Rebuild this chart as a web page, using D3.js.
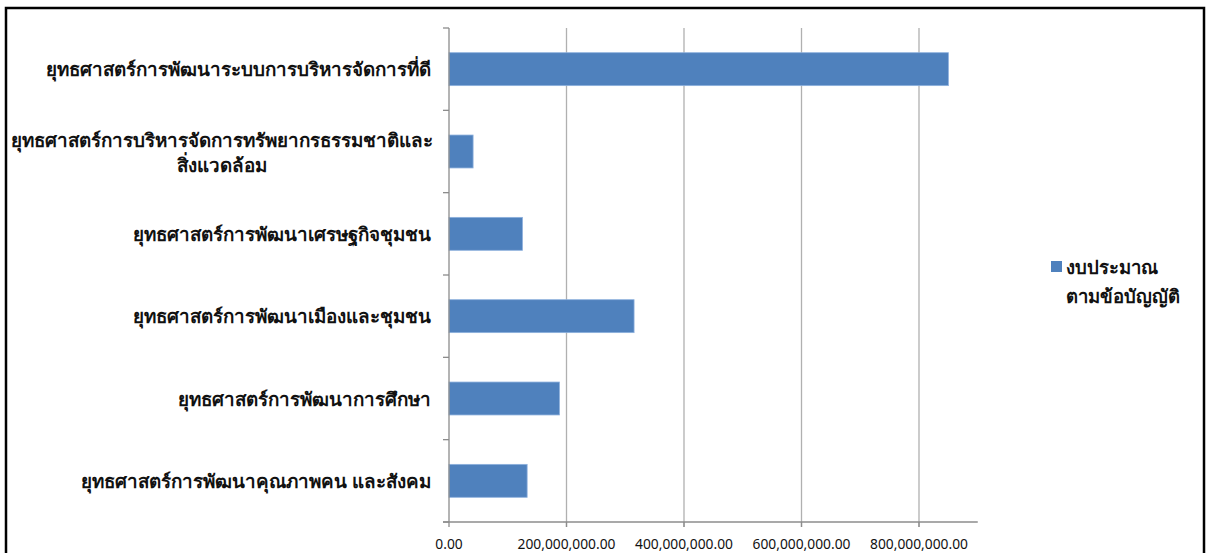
<!DOCTYPE html>
<html>
<head>
<meta charset="utf-8">
<script src="https://cdn.jsdelivr.net/npm/d3@7"></script>
<style>
  body { margin: 0; background: #fff; }
  svg { display: block; font-family: Tahoma, "Noto Sans", "DejaVu Sans", sans-serif; }
</style>
</head>
<body>
<svg id="chart" width="1208" height="553"></svg>
<script>
// categories, top to bottom (label lines)
const categories = [
  ["ยุทธศาสตร์การพัฒนาระบบการบริหารจัดการที่ดี"],
  ["ยุทธศาสตร์การบริหารจัดการทรัพยากรธรรมชาติและ", "สิ่งแวดล้อม"],
  ["ยุทธศาสตร์การพัฒนาเศรษฐกิจชุมชน"],
  ["ยุทธศาสตร์การพัฒนาเมืองและชุมชน"],
  ["ยุทธศาสตร์การพัฒนาการศึกษา"],
  ["ยุทธศาสตร์การพัฒนาคุณภาพคน และสังคม"]
];
const budget = [850000000, 41000000, 125000000, 315000000, 188000000, 133000000];
const seriesName = ["งบประมาณ", "ตามข้อบัญญัติ"];
const xTicks = [0, 200000000, 400000000, 600000000, 800000000];

const svg = d3.select("#chart");

// outer frame
svg.append("rect")
  .attr("x", 6).attr("y", 8)
  .attr("width", 1198).attr("height", 560)
  .attr("fill", "none").attr("stroke", "#000").attr("stroke-width", 2.5);

const plotL = 449, plotT = 28, plotB = 522;

const x = d3.scaleLinear().domain([0, 900000000]).range([plotL, plotL + (919 - plotL) * 900 / 800]);
const y = d3.scaleBand().domain(d3.range(categories.length)).range([plotT, plotB]).paddingInner(0.6).paddingOuter(0.3);
const yb = d3.scaleBand().domain(d3.range(categories.length)).range([plotT, plotB]);

// gridlines
svg.append("g")
  .selectAll("line")
  .data(xTicks.slice(1))
  .join("line")
  .attr("x1", d => x(d)).attr("x2", d => x(d))
  .attr("y1", plotT).attr("y2", plotB + 5)
  .attr("stroke", "#b0b0b0").attr("stroke-width", 1.3);

// bars
svg.append("g")
  .selectAll("rect")
  .data(budget)
  .join("rect")
  .attr("x", x(0))
  .attr("y", (d, i) => y(i))
  .attr("width", d => x(d) - x(0))
  .attr("height", y.bandwidth())
  .attr("fill", "#4f81bd")
  .attr("stroke", "#8db0dd").attr("stroke-width", 0.8);

// y axis
const yAxis = svg.append("g").attr("stroke", "#8c8c8c").attr("stroke-width", 1.3);
yAxis.append("line").attr("x1", plotL).attr("x2", plotL).attr("y1", plotT).attr("y2", plotB);
yAxis.selectAll(".tk")
  .data(d3.range(categories.length + 1))
  .join("line")
  .attr("x1", plotL - 6).attr("x2", plotL)
  .attr("y1", i => i < categories.length ? yb(i) : plotB)
  .attr("y2", i => i < categories.length ? yb(i) : plotB);

// x axis
const xAxis = svg.append("g").attr("stroke", "#8c8c8c").attr("stroke-width", 1.3);
xAxis.append("line").attr("x1", plotL - 6).attr("x2", x(900000000)).attr("y1", plotB).attr("y2", plotB);
xAxis.selectAll(".tk")
  .data(xTicks)
  .join("line")
  .attr("x1", d => x(d)).attr("x2", d => x(d))
  .attr("y1", plotB).attr("y2", plotB + 5);

svg.append("g")
  .selectAll("text")
  .data(xTicks)
  .join("text")
  .attr("x", d => x(d))
  .attr("y", 549)
  .attr("text-anchor", "middle")
  .attr("font-size", 13.8)
  .attr("fill", "#111")
  .text(d => d3.format(",.2f")(d));

// category labels
const labels = svg.append("g")
  .selectAll("text")
  .data(categories)
  .join("text")
  .attr("font-size", 18.8)
  .attr("font-weight", "bold")
  .attr("fill", "#111")
  .attr("text-anchor", "end")
  .attr("transform", (d, i) => `translate(431, ${yb(i) + yb.bandwidth() / 2 + 7 - (d.length - 1) * 12})`);

labels.each(function(lines) {
  const t = d3.select(this);
  if (lines.length === 1) {
    t.text(lines[0]);
  } else {
    // wrapped label: lines centred on each other, block right aligned
    t.attr("text-anchor", "middle");
    const w = 418;
    lines.forEach((ln, k) => {
      t.append("tspan").attr("x", -w / 2).attr("dy", k === 0 ? 0 : 25).text(ln);
    });
  }
});

// legend
const legend = svg.append("g").attr("transform", "translate(1051, 261)");
legend.append("rect").attr("width", 11).attr("height", 11).attr("fill", "#4f81bd");
legend.append("text")
  .attr("font-size", 18.5).attr("font-weight", "bold").attr("fill", "#111")
  .selectAll("tspan")
  .data(seriesName)
  .join("tspan")
  .attr("x", 15)
  .attr("y", (d, i) => 13 + i * 29)
  .text(d => d);
</script>
</body>
</html>
